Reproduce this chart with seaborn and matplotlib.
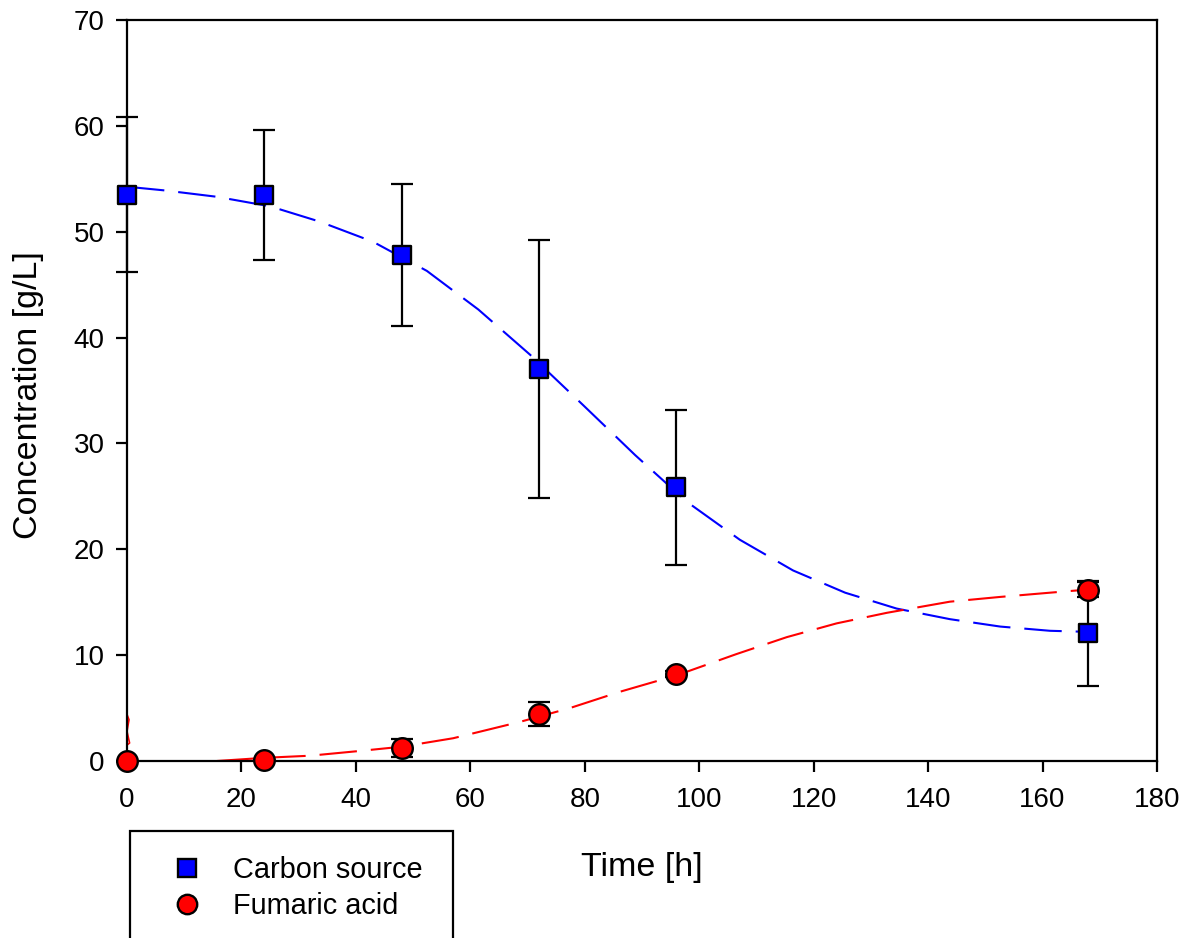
import numpy as np
import pandas as pd
import seaborn as sns
import matplotlib.pyplot as plt
from matplotlib.lines import Line2D
from matplotlib.patches import Rectangle

# measured points (mean +/- sd)
time_h = [0, 24, 48, 72, 96, 168]
carbon = [53.5, 53.45, 47.8, 37.0, 25.85, 12.05]
carbon_sd = [7.3, 6.15, 6.7, 12.2, 7.3, 4.95]
fumaric = [0.0, 0.1, 1.2, 4.45, 8.2, 16.2]
fumaric_sd = [0.0, 0.0, 0.85, 1.15, 0.3, 0.7]

# fitted curves
carbon_fit_t = [0, 6.6, 15.7, 25, 33.7, 43, 52.4, 61.4, 70.4, 79.75, 88.8, 97.8,
                107.1, 116.4, 125.5, 134.5, 143.8, 152.6, 161.3, 168]
carbon_fit = [54.25, 53.9, 53.3, 52.4, 50.95, 49.05, 46.3, 42.65, 38.4, 33.6, 28.9, 24.5,
              20.9, 18.0, 15.9, 14.4, 13.4, 12.7, 12.3, 12.2]
fum_fit_t = [15.7, 24, 32, 40.7, 48, 57, 68.7, 77.4, 86.2, 96.1, 106.5, 115.3,
             124, 132.8, 143.8, 152.6, 161.3, 168]
fum_fit = [0.0, 0.3, 0.5, 0.95, 1.35, 2.15, 3.7, 5.0, 6.55, 8.1, 10.1, 11.7,
           13.0, 14.0, 15.05, 15.5, 15.9, 16.2]
# small glitch of the fit near t = 0
fum_glitch_t = [0.0, 0.35, 0.0, 0.45, 0.0]
fum_glitch = [4.4, 3.9, 2.8, 1.7, 1.5]

sns.set_theme(style='ticks')
plt.rcParams['font.family'] = ['Liberation Sans', 'DejaVu Sans']
plt.rcParams['text.color'] = 'black'
plt.rcParams['axes.labelcolor'] = 'black'

fig = plt.figure(figsize=(11.9, 9.38), dpi=100)
ax = fig.add_axes([127/1190, 1-761/938, 1030/1190, 741/938])

for t, y, c in [(carbon_fit_t, carbon_fit, 'blue'), (fum_fit_t, fum_fit, 'red')]:
    sns.lineplot(x=t, y=y, color=c, lw=1.5, sort=False, estimator=None, ax=ax)
    ax.lines[-1].set_dashes([18, 6.7])
ax.plot(fum_glitch_t, fum_glitch, color='red', lw=1.2, clip_on=False)

ax.errorbar(time_h, carbon, yerr=carbon_sd, fmt='none', ecolor='black',
            elinewidth=1.6, capsize=8, capthick=1.6, clip_on=False, zorder=3)
ax.errorbar(time_h, fumaric, yerr=fumaric_sd, fmt='none', ecolor='black',
            elinewidth=1.6, capsize=8, capthick=1.6, clip_on=False, zorder=3)

df = pd.DataFrame({'t': time_h, 'carbon': carbon, 'fum': fumaric})
sns.scatterplot(data=df, x='t', y='carbon', marker='s', s=160, color='blue',
                edgecolor='black', linewidth=1.7, ax=ax, zorder=4, clip_on=False)
sns.scatterplot(data=df, x='t', y='fum', marker='o', s=220, color='red',
                edgecolor='black', linewidth=1.7, ax=ax, zorder=4, clip_on=False)

ax.set_xlim(0, 180)
ax.set_ylim(0, 70)
ax.set_xticks(np.arange(0, 181, 20))
ax.set_yticks(np.arange(0, 71, 10))
for s in ax.spines.values():
    s.set_linewidth(1.6)
    s.set_color('black')
ax.tick_params(direction='out', length=8, width=1.6, labelsize=20, pad=8, colors='black')
ax.tick_params(axis='x', pad=11)

ax.set_xlabel('Time [h]', fontsize=24.5)
ax.set_ylabel('Concentration [g/L]', fontsize=24.5)
ax.xaxis.set_label_coords(0.5, -0.1433)
ax.xaxis.label.set_va('center')
ax.yaxis.set_label_coords(-0.0961, 0.494)
ax.yaxis.label.set_va('center')

# legend box (runs off the bottom of the figure)
fig.patches.append(Rectangle((130/1190, -0.05), 323/1190, 0.05 + (938-830.7)/938,
                             transform=fig.transFigure, fill=False, edgecolor='black',
                             linewidth=1.6))
handles = [Line2D([], [], marker='s', ls='none', color='blue', markeredgecolor='black',
                  markeredgewidth=1.7, markersize=12.5),
           Line2D([], [], marker='o', ls='none', color='red', markeredgecolor='black',
                  markeredgewidth=1.7, markersize=14)]
fig.legend(handles, ['Carbon source', 'Fumaric acid'], loc='upper left',
           bbox_to_anchor=(155/1190, 1-842/938), frameon=False, fontsize=20.8,
           handlelength=1.2, handletextpad=1.0, labelspacing=0.25, borderpad=0)

fig.savefig('out.png', dpi=100, facecolor='white')
